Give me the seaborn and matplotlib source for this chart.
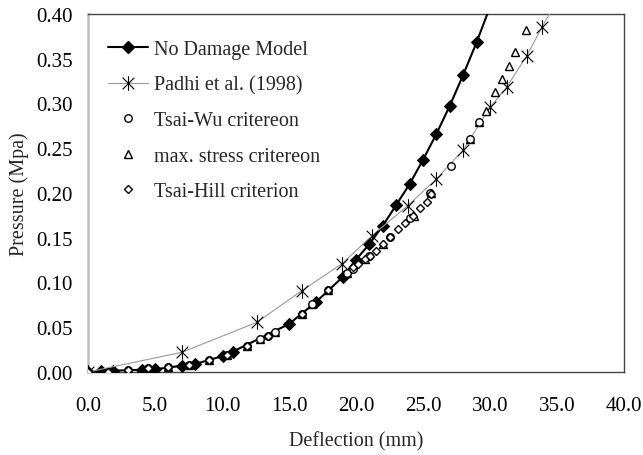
import matplotlib
matplotlib.use("Agg")
import matplotlib.pyplot as plt
import seaborn as sns
import numpy as np
from matplotlib.path import Path
from matplotlib.lines import Line2D
from matplotlib.ticker import FormatStrFormatter, MultipleLocator

# No damage model (filled diamonds, smooth black curve)
nd_x = [0, 1.0, 1.9, 4.0, 5.0, 7.0, 8.0, 10.1, 10.8, 15.0, 17.0, 19.0, 20.0, 21.0,
        22.0, 23.0, 24.0, 25.0, 26.0, 27.0, 28.0, 29.0, 30.0]
nd_y = [0, 0.001, 0.0015, 0.0025, 0.003, 0.007, 0.009, 0.018, 0.0227, 0.0536, 0.078,
        0.106, 0.1255, 0.143, 0.1635, 0.1866, 0.210, 0.237, 0.266, 0.2975, 0.332,
        0.3684, 0.408]

# Padhi et al. (1998)
pa_x = [0, 7.0, 12.6, 15.95, 18.93, 21.17, 23.87, 26.0, 28.0, 30.0, 31.24, 32.74, 33.9, 35.0]
pa_y = [0, 0.022, 0.0555, 0.0908, 0.1207, 0.152, 0.186, 0.2157, 0.248, 0.2957, 0.318,
        0.3534, 0.3858, 0.415]

# Tsai-Wu criterion
tw_x = [0, 1.5, 3.0, 4.5, 6.0, 7.5, 9.0, 10.35, 11.9, 12.8, 13.45, 13.96, 15.95, 16.7,
        17.93, 19.3, 19.8, 21.0, 22.5, 24.0, 25.5, 27.1, 28.5, 29.2]
tw_y = [0, 0.0003, 0.0022, 0.0041, 0.0052, 0.0078, 0.0137, 0.0193, 0.0293, 0.0369,
        0.0405, 0.045, 0.0648, 0.076, 0.0919, 0.1106, 0.115, 0.130, 0.1505, 0.172,
        0.2, 0.2305, 0.26, 0.279]

# Maximum stress criterion
ms_x = [0, 1.5, 3.0, 4.5, 6.0, 7.5, 9.0, 10.35, 11.9, 12.8, 13.96, 15.95, 16.7, 17.93,
        19.3, 20.7, 22.0, 24.3, 25.6, 28.5, 29.2, 29.7, 30.4, 30.9, 31.4, 31.9, 32.7]
ms_y = [0, 0.0003, 0.0022, 0.0041, 0.0052, 0.0078, 0.0137, 0.0193, 0.0293, 0.0369,
        0.045, 0.0648, 0.076, 0.0919, 0.1106, 0.126, 0.143, 0.1747, 0.2, 0.26, 0.279,
        0.292, 0.313, 0.327, 0.342, 0.358, 0.3825]

# Tsai-Hill criterion
th_x = [0, 1.5, 3.0, 4.5, 6.0, 7.5, 9.0, 10.35, 11.9, 13.45, 15.95, 17.93, 19.8, 20.17,
        20.67, 21.04, 21.5, 22.0, 22.5, 23.16, 23.66, 24.28, 24.78, 25.27, 25.6]
th_y = [0, 0.0003, 0.0022, 0.0041, 0.0052, 0.0078, 0.0137, 0.0193, 0.0293, 0.0405,
        0.0648, 0.0919, 0.117, 0.1207, 0.126, 0.13, 0.1355, 0.143, 0.1505, 0.16, 0.167,
        0.1747, 0.183, 0.19, 0.199]

legend_labels = ["No Damage Model", "Padhi et al. (1998)", "Tsai-Wu critereon",
                 "max. stress critereon", "Tsai-Hill criterion"]

sns.set_theme(style="white")
plt.rcParams["font.family"] = ["Liberation Serif", "DejaVu Serif"]

# Asterisk marker: an X with a vertical stroke
star = Path([(-1, -1), (1, 1), (-1, 1), (1, -1), (0, -1.25), (0, 1.25)],
            [Path.MOVETO, Path.LINETO, Path.MOVETO, Path.LINETO, Path.MOVETO, Path.LINETO])

fig = plt.figure(figsize=(6.43, 4.56), dpi=100)
ax = fig.add_axes([88 / 643, 1 - 373 / 456, (624 - 88) / 643, (373 - 15) / 456])

sns.lineplot(x=nd_x, y=nd_y, ax=ax, color="black", lw=1.5, sort=False, estimator=None,
             marker="D", markersize=5.8, markerfacecolor="black", markeredgecolor="black",
             zorder=3)
sns.lineplot(x=pa_x, y=pa_y, ax=ax, color="#999999", lw=0.8, sort=False, estimator=None,
             zorder=3)
sns.lineplot(x=pa_x, y=pa_y, ax=ax, linestyle="none", sort=False, estimator=None,
             marker=star, markersize=10.5, markerfacecolor="none", markeredgecolor="black",
             markeredgewidth=0.8, zorder=4)
sns.lineplot(x=ms_x, y=ms_y, ax=ax, linestyle="none", sort=False, estimator=None,
             marker="^", markersize=6, markerfacecolor="white", markeredgecolor="black",
             markeredgewidth=1.0, zorder=5)
sns.lineplot(x=tw_x, y=tw_y, ax=ax, linestyle="none", sort=False, estimator=None,
             marker="o", markersize=5.4, markerfacecolor="white", markeredgecolor="black",
             markeredgewidth=1.0, zorder=6)
sns.lineplot(x=th_x, y=th_y, ax=ax, linestyle="none", sort=False, estimator=None,
             marker="D", markersize=4.0, markerfacecolor="white", markeredgecolor="black",
             markeredgewidth=1.0, zorder=7)

ax.set_xlim(0, 40)
ax.set_ylim(0, 0.40)
ax.xaxis.set_major_locator(MultipleLocator(5))
ax.yaxis.set_major_locator(MultipleLocator(0.05))
ax.xaxis.set_major_formatter(FormatStrFormatter("%.1f"))
ax.yaxis.set_major_formatter(FormatStrFormatter("%.2f"))
ax.tick_params(axis="both", direction="out", length=6, width=1, color="#333333",
               labelsize=15, labelcolor="black")
ax.tick_params(axis="x", pad=11)
ax.tick_params(axis="y", pad=5)
for side in ["top", "right", "bottom"]:
    ax.spines[side].set_color("#444444")
    ax.spines[side].set_linewidth(1.0)
ax.spines["left"].set_color("#bdbdbd")
ax.spines["left"].set_linewidth(1.8)
ax.set_xlabel("Deflection (mm)", fontsize=14.5, labelpad=12)
ax.set_ylabel("Pressure (Mpa)", fontsize=14.5, labelpad=5)

handles = [
    Line2D([], [], color="black", lw=1.5, marker="D", markersize=5.8,
           markerfacecolor="black", markeredgecolor="black"),
    Line2D([], [], color="#999999", lw=0.8, marker=star, markersize=10.5,
           markerfacecolor="none", markeredgecolor="black", markeredgewidth=0.8),
    Line2D([], [], linestyle="none", marker="o", markersize=5.4, markerfacecolor="white",
           markeredgecolor="black", markeredgewidth=1.0),
    Line2D([], [], linestyle="none", marker="^", markersize=6, markerfacecolor="white",
           markeredgecolor="black", markeredgewidth=1.0),
    Line2D([], [], linestyle="none", marker="D", markersize=4.0, markerfacecolor="white",
           markeredgecolor="black", markeredgewidth=1.0),
]
ax.legend(handles, legend_labels, loc="upper left", bbox_to_anchor=(0.037, 0.928),
          frameon=False, fontsize=14.5, handlelength=2.0, handletextpad=0.3,
          labelspacing=0.82, borderpad=0, borderaxespad=0)

fig.savefig("out.png", dpi=100)
